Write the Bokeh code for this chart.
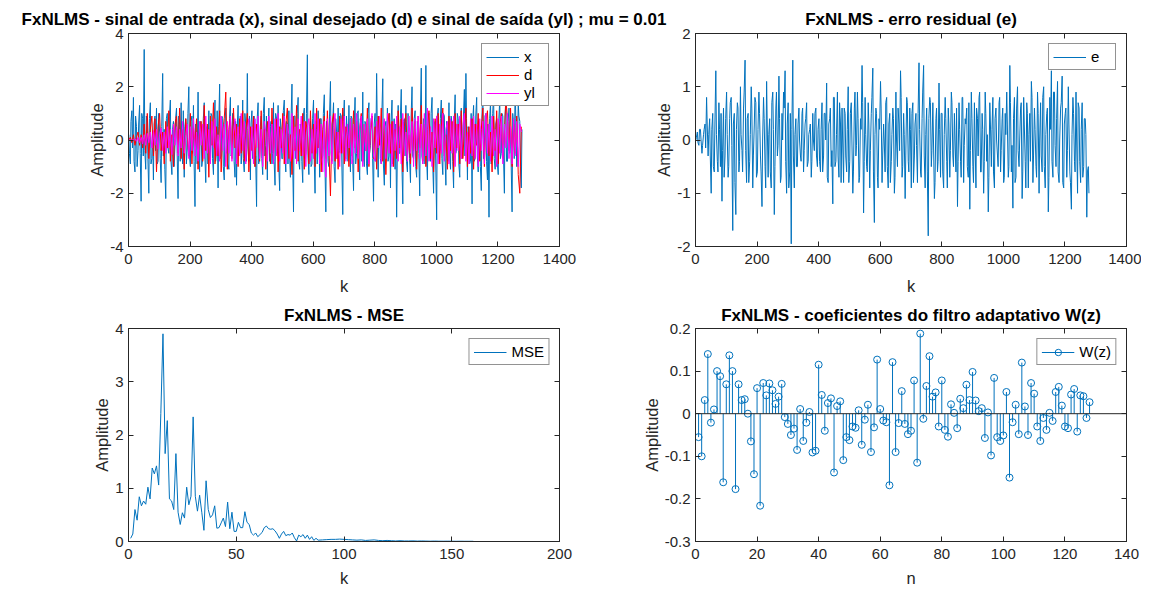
from bokeh.plotting import figure
from bokeh.layouts import column, row
from bokeh.models import Range1d, LinearAxis, FixedTicker, Legend, LegendItem, Span
from bokeh.embed import file_html
from bokeh.resources import INLINE

# ---------------- data ----------------
k_a = list(range(1, 1281, 5))   # sample index k (set A)
k_b = list(range(3, 1281, 5))   # sample index k (set B, between the A samples)

x_a = [
    0.2, -0.9, 1.1, 1.6, -1.2, 0.5, -0.4, 1.3, -2.3, 0.8, 3.4, -1.1, 0.6, -2.0, 1.4, -0.7,
    -1.5, 0.9, 1.2, -0.8, 0.3, -1.6, 2.5, 0.4, -2.2, 1.0, -0.5, 1.5, -1.3, 0.7, -0.2, 1.2,
    -2.2, 0.6, 1.4, -0.9, -1.4, 0.8, -0.3, 2.0, -1.0, 0.9, 1.3, -2.5, 0.1, 1.8, -1.2, 0.5,
    -0.7, 1.4, -1.6, 0.3, 1.1, -0.8, 0.9, -1.3, 1.5, -0.4, -1.8, 2.1, -0.6, 0.8, -1.5, 1.2,
    0.4, -1.1, 1.6, -0.5, 0.7, -1.4, -1.7, 1.3, 0.2, -0.9, 1.5, -1.2, 0.6, 2.5, -0.8, -1.5,
    1.1, 0.3, -1.0, -2.5, 1.4, -0.6, 0.9, -1.3, 1.6, -0.2, -1.5, 1.2, 0.5, -0.9, 1.4, -1.7,
    0.8, 1.3, -1.9, 0.4, -0.7, 1.5, -1.2, 0.6, 1.1, -1.4, 2.1, -2.7, 0.9, -0.3, 1.6, -1.1,
    0.3, -1.6, 1.2, -0.5, 3.2, -1.3, 0.7, -0.9, 1.5, -2.0, 0.4, 1.1, -1.4, 0.8, -0.6, 1.7,
    -2.7, 0.5, -1.0, 2.2, -0.8, 1.4, -1.6, 0.3, 1.2, -0.4, 0.9, -2.8, 1.5, -0.7, 0.2, 1.3,
    -1.2, 0.8, -1.9, 1.6, -0.5, 1.1, -1.5, 0.4, 1.8, -1.0, 0.6, -1.3, 1.4, -0.2, 0.9, -2.3,
    1.0, 2.5, -1.4, 0.3, -0.9, 2.3, -1.7, 0.7, 1.2, -0.6, -1.8, 1.5, 0.4, -1.1, -2.9, 1.3,
    -0.5, 1.9, -2.4, 0.8, 1.3, -1.2, 0.2, -1.6, 2.0, -0.7, 1.1, -1.4, 0.6, -2.1, 2.7, -0.9,
    0.4, 2.8, -1.5, 1.0, -0.8, 1.6, -2.0, 0.7, -3.0, 1.2, -0.4, 1.5, -1.3, 0.9, -1.7, 0.5,
    1.4, -1.1, 0.6, -1.8, 1.7, -0.3, 0.8, -1.4, 1.2, -0.6, 1.9, 2.5, -1.5, 0.3, -0.8, -2.4,
    1.3, -0.7, 1.6, -1.2, 0.5, -1.9, 2.2, -0.4, 1.0, -1.5, -2.9, 1.4, -0.6, 1.7, -1.1, 0.8,
    -1.3, 1.5, -0.5, 0.9, -2.0, 1.6, -0.8, 1.2, 0.4, -2.7, 0.6, 2.0, -1.0, 1.4, 0.7, -1.8,
]
x_b = [
    -0.5, 0.7, -0.3, -0.8, 0.9, -1.0, 0.6, -0.5, 1.0, -0.6, -0.4, 0.9, -0.7, 0.8, -0.9, 0.3,
    0.6, -0.4, -0.9, 1.0, -0.7, 0.5, -0.6, -1.1, 0.8, -0.3, 0.9, -0.8, 0.4, -1.0, 0.8, -0.5,
    0.9, -0.8, -0.4, 1.1, 0.5, -0.9, 1.0, -0.6, 0.7, -0.5, -0.8, 0.6, -0.9, -0.4, 0.7, -1.0,
    0.8, -0.6, 0.5, -0.9, -0.4, 1.0, -0.7, 0.6, -0.8, 1.1, 0.5, -0.7, 0.9, -1.0, 0.6, -0.5,
    -0.9, 0.8, -0.6, 1.0, -0.8, 0.7, 0.4, -0.6, 0.9, -0.5, -0.7, 1.0, -0.8, -0.3, 0.9, 0.6,
    -0.7, 0.9, -0.6, 0.8, -0.9, 0.5, -0.7, 1.0, -0.6, 0.9, 0.4, -0.8, 0.7, -0.5, -0.8, 1.0,
    -0.5, -0.9, 0.8, -0.7, 1.1, -0.6, 0.7, -0.9, -0.5, 0.8, -0.6, 0.9, -0.7, 1.0, -0.8, 0.6,
    -0.8, 0.9, -0.7, 1.0, -0.6, 0.5, -1.0, 0.8, -0.6, 0.7, -0.9, 0.5, 0.8, -0.7, 1.0, -0.9,
    0.7, -0.8, 0.9, -0.5, 0.6, -1.0, 0.8, -0.7, -0.5, 1.0, -0.9, 0.7, -0.6, 0.9, -0.8, -0.4,
    0.9, -0.7, 0.6, -0.9, 1.0, -0.6, 0.8, -0.8, -0.4, 0.7, -0.9, 1.0, -0.5, 0.8, -0.7, 0.6,
    -0.8, 0.6, 0.9, -0.7, 1.0, -0.9, 0.5, -0.6, -0.8, 1.0, 0.7, -0.9, 0.8, 0.6, -0.7, -0.5,
    0.8, -0.9, 0.7, -0.6, -0.8, 1.0, -0.7, 0.9, -0.6, 0.8, -1.0, 0.7, -0.5, 0.9, -0.6, 0.8,
    -0.9, -0.6, 0.8, -0.7, 1.0, -0.8, 0.6, -0.9, 0.9, -0.5, 0.8, -0.7, 1.0, -0.6, 0.7, -0.8,
    -0.6, 0.9, -0.8, 0.7, -0.5, 1.0, -0.9, 0.6, -0.7, 0.9, -0.6, 0.8, 0.5, -0.9, 1.0, 0.7,
    -0.8, 0.9, -0.6, 0.7, -1.0, 0.8, -0.7, 0.9, -0.8, 0.6, 0.8, -0.9, 1.0, -0.7, 0.6, -0.9,
    0.8, -0.7, 1.0, -0.6, 0.9, -0.8, 0.7, -0.5, -0.9, 1.0, -0.7, 0.8, -0.6, 0.9, -1.0, 0.4,
]

d_a = [
    0.0, 0.1, -0.1, 0.2, -0.2, 0.1, 0.3, -0.2, 0.2, -0.3, 0.6, -0.5, 1.0, -0.7, 0.4, 0.9,
    -0.6, 0.8, -1.2, 0.5, 1.0, -0.4, 0.3, -0.9, 0.7, -0.3, 1.1, -0.8, 0.2, -1.0, 0.6, 0.9,
    -0.5, 1.2, -0.7, 0.4, -1.1, 0.8, 0.1, -0.6, 1.0, -0.9, 0.5, -0.2, 0.8, -1.1, 0.3, 0.7,
    -0.8, 1.3, -0.4, 0.6, -1.4, 0.9, -0.2, 1.4, -0.9, 0.5, -0.6, 1.1, -1.2, 0.3, 0.8, 1.8,
    -1.1, 0.4, 0.9, -0.7, 1.2, -0.3, 0.6, -1.0, 0.8, -0.5, 1.1, -0.8, 0.3, 1.0, -1.2, 0.5,
    -0.4, 0.9, -1.0, 0.6, 0.2, -0.8, 1.1, -0.6, 0.4, -1.1, 0.7, 0.1, -0.9, 1.2, -0.5, 0.3,
    0.8, -1.2, 0.5, -0.3, 1.0, -0.9, 0.6, 1.2, -0.7, 0.2, -1.3, 0.9, -0.4, 1.3, -0.8, 0.4,
    -0.6, 1.0, -1.1, 0.7, 0.3, -0.9, 1.1, -0.5, 0.6, -1.0, 1.2, -0.3, 0.8, -1.2, 0.4, 0.9,
    -0.7, 1.1, -0.4, -2.1, 0.6, 1.0, -0.8, 0.3, -1.1, 0.9, -0.5, 1.2, -0.9, 0.5, 0.2, -1.0,
    0.8, -0.6, 1.1, -0.3, 0.7, -1.2, 0.4, 1.0, -0.8, 0.6, -0.4, 1.2, -1.0, 0.3, 0.9, -0.7,
    0.5, -1.1, 0.9, -0.2, 1.2, -0.8, 0.6, -1.3, 0.3, 1.0, -0.5, 0.7, -1.0, 0.4, -0.7, 1.1,
    -0.3, 0.8, -1.2, 0.5, 1.0, -0.6, 0.2, -0.9, 1.2, -0.4, 0.7, -1.1, 0.9, -0.3, 1.3, -0.8,
    0.6, -1.0, 0.4, 1.1, -0.7, 0.3, -1.2, 0.8, -0.5, 1.0, -0.9, 0.5, 1.2, -0.6, 0.2, -1.1,
    0.9, -0.4, 0.7, -1.2, 1.0, -0.3, 0.6, -0.9, 1.1, -0.7, 0.4, 1.2, -1.0, 0.5, -0.5, 0.8,
    -1.1, 0.6, -0.2, 1.0, -0.8, 0.4, 1.2, -1.0, 0.7, 1.1, -0.6, 0.3, -1.2, 0.9, -0.4, 1.1,
    -0.9, 0.5, 1.0, -0.7, 0.3, 1.5, 0.8, -0.4, 1.2, -1.0, 0.6, -0.5, 0.9, -1.3, -2.0, 0.5,
]

yl_a = [
    0.0, 0.0, 0.0, 0.0, 0.05, -0.05, 0.1, -0.1, 0.1, -0.15, 0.2, -0.2, 0.25, -0.1, 0.3, -0.3,
    0.35, -0.2, 0.4, -0.35, 0.2, 0.45, -0.4, 0.3, -0.5, 0.5, -0.3, 0.4, -0.55, 0.6, -0.2, 0.5,
    -0.6, 0.4, -0.3, 0.7, -0.5, 0.2, 0.6, -0.7, 0.5, -0.4, 0.8, -0.6, 0.3, -0.8, 0.7, -0.2,
    0.6, -0.7, 0.9, -0.5, 0.4, -0.9, 0.7, -0.3, 0.8, -0.6, 0.2, -0.8, 0.9, -0.4, 0.6, -1.0,
    0.7, -0.5, 0.9, -0.8, 0.3, 0.8, -0.9, 0.5, -0.6, 1.0, -0.4, 0.7, -0.9, 0.4, 0.8, -0.7,
    0.5, -0.9, 0.8, -0.3, 0.9, -0.7, 0.4, -1.0, 0.7, 0.3, -0.8, 0.9, -0.5, 0.6, -0.9, 0.8,
    -0.6, 1.0, -0.8, 0.4, -0.5, 0.9, -0.9, 0.6, 0.2, -0.8, 1.0, -0.7, 0.5, -0.9, 0.8, -0.4,
    0.9, -0.6, 0.7, -1.0, 0.5, 0.8, -0.8, 0.4, -0.7, 1.0, -0.5, 0.8, -0.9, 0.6, -1.2, 0.7,
    -1.4, 0.8, -0.6, 0.9, -0.9, 0.5, 1.0, -0.7, 0.3, -1.0, 0.8, -0.5, 0.9, -0.8, 0.6, -0.3,
    0.8, -0.9, 0.6, -0.5, 1.0, -0.7, 0.4, 0.9, -1.0, 0.6, -0.4, 0.8, -0.9, 0.5, 1.0, -0.6,
    -0.8, 0.7, -0.3, 0.9, -0.9, 0.4, 0.8, -0.7, 1.0, -0.5, 0.6, -1.0, 0.7, -0.4, 0.9, -0.8,
    0.5, -0.9, 1.0, -0.6, 0.3, -0.8, 0.9, -0.5, 0.7, -1.0, 0.8, -0.4, 0.9, -0.7, 0.6, -0.9,
    1.0, -0.6, 1.2, -0.8, 0.5, -1.0, 0.8, -0.3, 0.9, -0.9, 0.6, -0.5, 1.0, -0.8, 0.4, 0.7,
    -0.9, 0.8, -0.5, 0.9, -1.0, 0.6, -0.4, 0.9, -0.7, 0.5, 1.0, -0.8, 0.3, -0.9, 0.8, -0.6,
    0.9, -0.7, 0.6, -1.0, 0.8, -0.4, 0.7, -0.9, 1.0, -0.5, 0.6, -0.8, 0.9, -0.6, 0.4, -1.0,
    0.8, -0.5, 0.9, -0.9, 0.6, -0.3, 1.0, -0.7, 0.5, -0.9, 0.8, -0.6, 0.7, -1.0, 0.6, 0.3,
]

e_a = [
    0.0, 0.15, -0.1, 0.2, -0.25, 0.1, 0.3, 0.8, -0.3, 0.4, -1.0, 0.5, -0.6, 1.3, -0.4, 0.7,
    -0.5, -1.15, 0.6, -0.3, 0.9, -0.7, 0.4, 0.8, -1.7, 0.5, -1.4, 0.7, -0.6, 1.0, -0.2, 0.6,
    1.5, -0.8, 0.5, -0.4, 1.0, -0.9, 0.3, 0.7, -0.6, 0.9, -0.3, -1.25, 0.8, -0.5, 1.1, -0.7,
    0.4, -0.9, 0.9, -1.4, 0.6, -0.3, 1.2, -0.8, 0.5, 0.9, 1.3, -1.0, 0.7, -0.6, -1.95, 1.5,
    -0.9, 0.4, -0.5, 0.6, -0.3, 0.5, -0.6, 0.3, 0.7, -0.4, 0.2, -0.7, 0.5, -0.2, 0.6, -0.5,
    0.4, -0.6, 0.7, -0.3, 0.5, 1.07, -0.8, 0.4, -0.5, -1.2, 0.8, -0.4, 0.9, -0.7, 0.3, 0.6,
    -0.8, 0.5, -0.6, 1.0, -0.4, 0.7, -1.0, 0.6, -0.3, 0.9, -0.8, 0.4, 1.4, -1.37, 0.8, -0.5,
    0.7, -0.9, 0.5, 1.35, -1.55, 0.6, -0.7, 0.4, 1.1, -0.8, 0.3, -0.6, 0.8, -0.9, 0.5, -0.4,
    0.6, -1.0, 0.9, -0.5, 0.3, 1.3, -0.7, 0.5, -1.1, 0.8, -0.4, 0.6, -0.9, 0.7, -0.3, 0.5,
    -0.8, 1.45, -0.6, 0.4, 1.4, -0.9, 0.6, -1.8, 0.8, -0.5, 0.7, -1.1, 0.4, -0.6, 1.07, -0.7,
    0.5, -0.9, 0.8, -0.4, 0.6, -0.7, 0.9, -0.3, 0.5, -0.6, -1.25, 0.7, -0.4, 0.8, -0.8, 0.4,
    0.6, -0.7, -1.3, 0.9, -0.5, 0.7, -0.9, 0.4, 0.8, -0.6, 0.5, -1.0, 0.9, -0.4, -1.35, 0.7,
    -0.5, 0.8, -0.9, 0.6, -0.3, 0.7, -0.6, 0.4, -0.8, 0.5, 0.9, -0.7, 1.4, -0.6, -1.28, 0.8,
    -0.7, 1.0, -0.5, 0.6, -1.1, 0.8, -0.4, 0.7, -0.9, 0.5, 1.1, -0.8, 0.6, -0.5, 0.9, -1.0,
    0.7, -0.6, 1.0, -0.9, 0.5, -1.35, 0.8, 1.3, -0.7, 0.9, -0.5, 1.1, -0.8, 0.6, 1.2, -0.9,
    0.5, -0.7, 1.0, -0.6, -1.3, 0.8, -0.4, 0.9, -1.0, 0.6, -0.8, 0.7, -0.5, 0.4, -1.45, -0.5,
]
e_b = [
    0.05, -0.05, 0.2, 0.0, -0.1, 0.2, -0.15, 0.3, 0.1, -0.3, 0.2, -0.5, 0.3, 0.1, -0.6, 0.2,
    0.5, -0.2, -0.7, 0.4, 0.1, -0.5, 0.7, -0.1, 0.3, -0.8, 0.2, 0.6, -0.4, 0.1, -0.6, 0.9,
    -0.2, 0.4, -0.8, 0.1, 0.6, -0.3, 0.8, -0.7, 0.2, 0.5, -0.6, 0.0, 0.4, -0.9, 0.3, 0.1,
    -0.6, 0.7, 0.2, -0.5, 0.9, -0.1, 0.4, -0.7, 0.0, 0.6, -0.4, 0.3, -0.9, 0.5, 0.2, -0.3,
    0.1, -0.5, 0.3, 0.0, -0.4, 0.6, -0.2, 0.4, -0.5, 0.1, 0.3, -0.4, 0.0, 0.5, -0.3, 0.2,
    -0.4, 0.2, -0.6, 0.5, 0.0, -0.7, 0.3, 0.6, -0.2, 0.8, -0.5, 0.1, -0.3, 0.7, -0.8, 0.0,
    0.6, -0.3, 0.2, -0.8, 0.5, 0.0, -0.6, 0.9, -0.1, 0.4, -0.7, 0.2, 0.7, -0.4, 0.1, -0.6,
    0.3, -0.2, 0.8, -0.6, 0.1, 0.5, -0.9, 0.2, 0.6, -0.3, 0.0, 0.7, -0.5, 0.3, -0.8, 0.1,
    0.4, -0.7, 0.0, 0.6, -0.2, 0.8, -0.5, 0.1, -0.3, 0.7, -0.6, 0.2, 0.5, -0.8, 0.3, -0.1,
    0.5, 0.2, -0.7, 0.9, -0.3, 0.1, -0.6, 0.4, 0.7, -0.2, 0.0, -0.8, 0.6, -0.4, 0.2, 0.5,
    -0.6, 0.1, 0.4, -0.9, 0.3, -0.2, 0.7, -0.5, 0.0, 0.6, -0.4, 0.2, -0.7, 0.8, -0.1, 0.3,
    -0.5, 0.7, -0.2, 0.4, -0.8, 0.0, 0.6, -0.3, 0.9, -0.6, 0.2, -0.4, 0.5, 0.1, -0.7, 0.3,
    0.2, -0.6, 0.4, 0.0, -0.5, 0.8, -0.2, 0.6, -0.7, 0.1, 0.3, -0.5, 0.7, -0.1, 0.4, -0.8,
    0.6, -0.2, 0.0, 0.7, -0.6, 0.3, -0.9, 0.5, 0.1, -0.4, 0.8, -0.3, 0.2, -0.7, 0.5, 0.0,
    -0.3, 0.8, -0.5, 0.1, 0.6, -0.7, 0.2, -0.4, 0.9, -0.1, 0.4, -0.6, 0.0, 0.7, -0.8, 0.3,
    0.6, -0.2, 0.3, -0.8, 0.1, 0.5, -0.6, 0.0, 0.7, -0.4, 0.2, -0.7, 0.4, 0.1, -0.6, -1.0,
]

mse_k = list(range(1, 89)) + list(range(90, 161, 2))
mse_val = [
    0.06, 0.14, 0.6, 0.4, 0.84, 0.67, 0.76, 0.7, 1.02, 0.8,
    1.38, 1.27, 1.42, 1.06, 2.4, 3.9, 1.65, 2.27, 0.8, 0.76,
    0.6, 1.65, 0.55, 0.32, 0.54, 0.44, 1.02, 0.69, 0.85, 2.34,
    0.85, 0.57, 0.87, 0.55, 0.21, 1.14, 0.6, 0.45, 0.5, 0.67,
    0.25, 0.26, 0.35, 0.44, 0.28, 0.74, 0.24, 0.55, 0.19, 0.19,
    0.36, 0.26, 0.26, 0.56, 0.36, 0.32, 0.16, 0.12, 0.16, 0.09,
    0.13, 0.17, 0.26, 0.29, 0.24, 0.23, 0.24, 0.2, 0.14, 0.06,
    0.14, 0.19, 0.11, 0.13, 0.12, 0.16, 0.07, 0.01, 0.12, 0.09,
    0.13, 0.06, 0.12, 0.04, 0.09, 0.02, 0.06, 0.025,
    0.03, 0.035, 0.04, 0.04, 0.045, 0.04, 0.035, 0.03, 0.025, 0.03,
    0.02, 0.025, 0.03, 0.02, 0.015, 0.02, 0.015, 0.01, 0.015, 0.01,
    0.01, 0.012, 0.008, 0.01, 0.008, 0.006, 0.008, 0.006, 0.005, 0.006,
    0.005, 0.004, 0.005, 0.004, 0.004, 0.004,
]

n_coef = list(range(1, 129))
w_coef = [
    -0.055, -0.1, 0.032, 0.14, -0.021, 0.01, 0.1, 0.088, -0.161, 0.069,
    0.137, 0.1, -0.177, 0.069, 0.032, 0.034, 0.0, -0.065, -0.142, 0.06,
    -0.216, 0.072, 0.043, 0.071, 0.055, 0.023, 0.04, 0.07, -0.008, -0.024,
    -0.05, -0.035, -0.085, 0.011, -0.064, -0.021, 0.004, -0.091, -0.087, 0.115,
    0.044, -0.04, 0.025, 0.036, -0.138, 0.018, 0.029, -0.109, -0.055, -0.062,
    -0.03, -0.033, 0.008, -0.073, -0.014, 0.021, -0.09, -0.032, 0.127, 0.011,
    -0.016, -0.02, -0.168, 0.121, -0.09, -0.022, 0.053, -0.024, -0.048, -0.04,
    0.078, -0.115, 0.188, -0.012, 0.065, 0.135, 0.04, 0.05, -0.03, 0.078,
    -0.038, -0.054, 0.022, 0.002, -0.034, 0.035, 0.013, 0.068, 0.032, 0.098,
    0.031, 0.006, 0.013, -0.057, 0.003, -0.098, 0.084, -0.055, -0.064, -0.051,
    0.051, -0.15, -0.02, 0.021, -0.048, 0.12, 0.017, -0.05, 0.072, 0.047,
    -0.03, -0.064, -0.01, -0.038, 0.002, -0.017, 0.051, 0.063, 0.019, -0.03,
    -0.034, 0.045, 0.058, -0.042, 0.043, 0.041, -0.01, 0.027,
]

ticks_k = [0, 200, 400, 600, 800, 1000, 1200, 1400]
ticks_sig = [-4, -2, 0, 2, 4]
ticks_e = [-2, -1, 0, 1, 2]
ticks_mse_k = [0, 50, 100, 150, 200]
ticks_mse = [0, 1, 2, 3, 4]
ticks_n = [0, 20, 40, 60, 80, 100, 120, 140]
ticks_w = [-0.3, -0.2, -0.1, 0, 0.1, 0.2]

title1 = "FxNLMS - sinal de entrada (x), sinal desejado (d) e sinal de saída (yl) ; mu = 0.01"
title2 = "FxNLMS - erro residual (e)"
title3 = "FxNLMS - MSE"
title4 = "FxNLMS - coeficientes do filtro adaptativo W(z)"

assert len(x_a) == len(k_a) == len(d_a) == len(yl_a) == len(e_a)
assert len(x_b) == len(k_b) == len(e_b)
assert len(mse_k) == len(mse_val)
assert len(n_coef) == len(w_coef)

# merge the two sample sets in order of k
k_ab = [k for pair in zip(k_a, k_b) for k in pair]
x_ab = [v for pair in zip(x_a, x_b) for v in pair]
e_ab = [v for pair in zip(e_a, e_b) for v in pair]

# ---------------- styling ----------------
FONT = "Liberation Sans"
AXC = "#262626"
BLUE = "#0072BD"
RED = "#FF0000"
MAGENTA = "#FF00FF"


def fmt(v):
    return "%g" % v


def make_fig(title, xr, yr, xt, yt, xlabel, top_row, left_border, right_border):
    mbt, mbb = (33, 54) if top_row else (28, 50)
    p = figure(title=title, x_range=Range1d(*xr), y_range=Range1d(*yr),
               frame_width=431, frame_height=213,
               min_border_left=left_border, min_border_right=right_border,
               min_border_top=mbt, min_border_bottom=mbb,
               output_backend="svg", toolbar_location=None, tools="")
    p.grid.visible = False
    p.outline_line_color = AXC
    p.outline_line_width = 1
    p.background_fill_color = "white"
    t = p.title
    t.text_font = FONT
    t.text_font_size = "17px"
    t.text_font_style = "bold"
    t.text_color = "black"
    t.align = "center"
    t.standoff = 9 if top_row else 7
    xa = p.xaxis[0]
    ya = p.yaxis[0]
    for ax, ticks in ((xa, xt), (ya, yt)):
        ax.ticker = FixedTicker(ticks=ticks)
        ax.major_label_overrides = {v: fmt(v) for v in ticks}
        ax.major_tick_in = 5
        ax.major_tick_out = 0
        ax.minor_tick_line_color = None
        ax.axis_line_color = AXC
        ax.major_tick_line_color = AXC
        ax.major_label_text_font = FONT
        ax.major_label_text_font_size = "15px"
        ax.major_label_text_color = AXC
        ax.axis_label_text_font = FONT
        ax.axis_label_text_font_size = "16.5px"
        ax.axis_label_text_font_style = "normal"
        ax.axis_label_text_color = AXC
    xa.axis_label = xlabel
    ya.axis_label = "Amplitude"
    xa.major_label_standoff = 7
    xa.axis_label_standoff = 10 if top_row else 7
    ya.major_label_standoff = 5
    ya.axis_label_standoff = 1
    for loc, ticks in (("above", xt), ("right", yt)):
        bx = LinearAxis(ticker=FixedTicker(ticks=ticks), major_tick_in=5, major_tick_out=0,
                        minor_tick_line_color=None, axis_line_color=AXC,
                        major_tick_line_color=AXC, major_label_text_font_size="0px",
                        major_label_text_color=None, major_label_standoff=0)
        p.add_layout(bx, loc)
    return p


def add_legend(p, items):
    lg = Legend(items=items, location="top_right", margin=10, padding=4, spacing=1,
                glyph_width=33, glyph_height=16, label_height=16, label_standoff=5,
                label_text_font=FONT, label_text_font_size="15px", label_text_color="black",
                border_line_color=AXC, border_line_width=1,
                background_fill_color="white", background_fill_alpha=1.0)
    p.add_layout(lg)


# ---- top-left: x, d, yl ----
p1 = make_fig(title1, (0, 1400), (-4, 4), ticks_k, ticks_sig, "k", True, 128, 132)
r_x = p1.line(k_ab, x_ab, line_color=BLUE, line_width=1)
r_d = p1.line(k_a, d_a, line_color=RED, line_width=1)
r_y = p1.line(k_a, yl_a, line_color=MAGENTA, line_width=1)
add_legend(p1, [LegendItem(label="x", renderers=[r_x]),
                LegendItem(label="d", renderers=[r_d]),
                LegendItem(label="yl", renderers=[r_y])])

# ---- top-right: e ----
p2 = make_fig(title2, (0, 1400), (-2, 2), ticks_k, ticks_e, "k", True, 75, 15)
p2.border_fill_color = None
p2.styles = {"margin-left": "-71px"}
r_e = p2.line(k_ab, e_ab, line_color=BLUE, line_width=1)
add_legend(p2, [LegendItem(label="e", renderers=[r_e])])

# ---- bottom-left: MSE ----
p3 = make_fig(title3, (0, 200), (0, 4), ticks_mse_k, ticks_mse, "k", False, 128, 61)
r_m = p3.line(mse_k, mse_val, line_color=BLUE, line_width=1)
add_legend(p3, [LegendItem(label="MSE", renderers=[r_m])])

# ---- bottom-right: W(z) stem ----
p4 = make_fig(title4, (0, 140), (-0.3, 0.2), ticks_n, ticks_w, "n", False, 75, 15)
p4.add_layout(Span(location=0, dimension="width", line_color=AXC, line_width=1))
r_s = p4.segment(x0=n_coef, y0=0, x1=n_coef, y1=w_coef, line_color=BLUE, line_width=1)
r_c = p4.scatter(n_coef, w_coef, marker="circle", size=7, fill_color=None,
                 line_color=BLUE, line_width=1)
add_legend(p4, [LegendItem(label="W(z)", renderers=[r_s, r_c])])

layout = column(row(p1, p2), row(p3, p4))

with open("out.html", "w") as f:
    f.write(file_html(layout, INLINE, title="FxNLMS"))
